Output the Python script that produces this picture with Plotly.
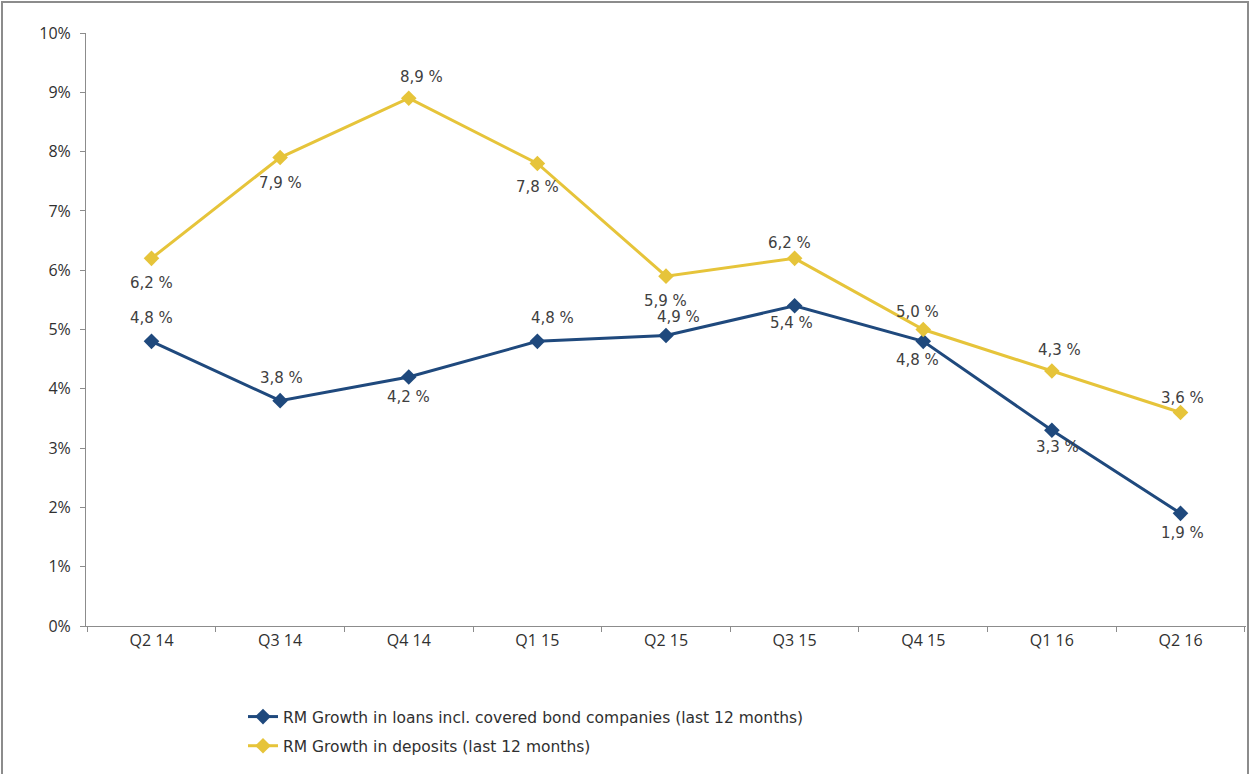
import plotly.graph_objects as go

# Data
quarters = ['Q2 14', 'Q3 14', 'Q4 14', 'Q1 15', 'Q2 15', 'Q3 15', 'Q4 15', 'Q1 16', 'Q2 16']
loans = [4.8, 3.8, 4.2, 4.8, 4.9, 5.4, 4.8, 3.3, 1.9]
deposits = [6.2, 7.9, 8.9, 7.8, 5.9, 6.2, 5.0, 4.3, 3.6]
y_ticks = [0, 1, 2, 3, 4, 5, 6, 7, 8, 9, 10]

# Verschiebung der Beschriftungen in Pixeln (wie im Original platziert)
loans_dx = [0, 1, 0, 15, 12, -3, -6, 6, 2]
loans_dy = [23, 23, -20, 23, 18, -17, -19, -17, -20]
deposits_dx = [0, 0, 13, 0, -1, -5, -6, 8, 2]
deposits_dy = [-25, -25, 21, -24, -25, 15, 18, 21, 15]

BLUE = '#1F497D'
GOLD = '#E6C43A'
label_font = dict(family='DejaVu Sans', size=15, color='#404040')


def fmt(v):
    return f'{v:.1f}'.replace('.', ',') + ' %'


fig = go.Figure()
fig.add_trace(go.Scatter(
    x=quarters, y=loans, mode='lines+markers', legendgroup='a',
    name='RM Growth in loans incl. covered bond companies (last 12 months)',
    line=dict(color=BLUE, width=3),
    marker=dict(symbol='diamond', size=12, color=BLUE),
    cliponaxis=False,
))
fig.add_trace(go.Scatter(
    x=quarters, y=deposits, mode='lines+markers', legendgroup='b',
    name='RM Growth in deposits (last 12 months)',
    line=dict(color=GOLD, width=3),
    marker=dict(symbol='diamond', size=12, color=GOLD),
    cliponaxis=False,
))

# Datenbeschriftungen
for vals, dxs, dys in [(loans, loans_dx, loans_dy), (deposits, deposits_dx, deposits_dy)]:
    for q, v, dx, dy in zip(quarters, vals, dxs, dys):
        fig.add_annotation(x=q, y=v, text=fmt(v), showarrow=False,
                           xshift=dx, yshift=dy, font=label_font)

# Rahmen um das ganze Bild
W, H = 1251, 774
L, R, T, B = 86, 5, 33, 148
pw, ph = W - L - R, H - T - B
fig.add_shape(type='rect', xref='paper', yref='paper',
              x0=(2 - L) / pw, x1=(W - 3 - L) / pw,
              y0=-(H + 5 - T - ph) / ph, y1=1 + (T - 2) / ph,
              line=dict(color='#8c8c8c', width=2))

fig.update_layout(
    width=W, height=H,
    margin=dict(l=L, r=R, t=T, b=B),
    paper_bgcolor='white', plot_bgcolor='white',
    font=dict(family='Open Sans', size=15, color='#303030'),
    showlegend=True,
    legend=dict(x=(243 - L) / pw, y=-(700 - T - ph) / ph, xanchor='left', yanchor='top',
                font=dict(family='DejaVu Sans', size=15.5, color='#303030'),
                tracegroupgap=6, itemwidth=30),
)
fig.update_xaxes(
    showgrid=False, showline=True, linecolor='#8c8c8c', linewidth=1,
    ticks='outside', ticklen=5, tickcolor='#8c8c8c', tickson='boundaries',
    tickfont=dict(family='Open Sans', size=16, color='#303030'),
)
fig.update_yaxes(
    range=[0, 10], tickvals=y_ticks, ticktext=[f'{v}%' for v in y_ticks],
    showgrid=False, zeroline=False, showline=True, linecolor='#8c8c8c', linewidth=1,
    ticks='outside', ticklen=5, tickcolor='#8c8c8c', ticklabelstandoff=6,
    tickfont=dict(family='Open Sans', size=16, color='#303030'),
)

# Seitenrand des Browsers entfernen
fig.write_html('out.html', config={'displayModeBar': False},
               post_script="document.body.style.margin='0';")
